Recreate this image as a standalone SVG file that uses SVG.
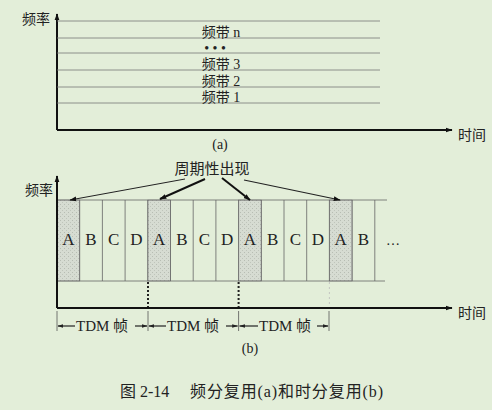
<svg xmlns="http://www.w3.org/2000/svg" width="492" height="410" viewBox="0 0 492 410">
<defs>
<style>
.t{font-family:"Liberation Serif","Noto Sans CJK SC",serif;fill:#222}
.ax{stroke:#111;stroke-width:2;fill:none}
.band{stroke:#777;stroke-width:0.8}
.slot{stroke:#666;stroke-width:0.8;fill:none}
.sh{fill:url(#stip);stroke:#888;stroke-width:0.6}
.dot{stroke:#222;stroke-width:2;stroke-dasharray:2,2}
.tick{stroke:#555;stroke-width:0.8}
.ar{stroke:#222;stroke-width:1.2;fill:none}
</style>
<pattern id="stip" width="4" height="4" patternUnits="userSpaceOnUse">
<rect width="4" height="4" fill="#d6dcd2"/>
<rect x="0" y="0" width="1" height="1" fill="#b7bdb3"/>
<rect x="2" y="2" width="1" height="1" fill="#bfc5bb"/>
</pattern>
<marker id="ah" viewBox="0 0 10 10" refX="9" refY="5" markerWidth="7" markerHeight="7" orient="auto-start-reverse" markerUnits="userSpaceOnUse"><path d="M0,1.5 L10,5 L0,8.5 Z" fill="#111"/></marker>
<marker id="sa" viewBox="0 0 10 10" refX="9" refY="5" markerWidth="6" markerHeight="6" orient="auto-start-reverse" markerUnits="userSpaceOnUse"><path d="M0,2 L10,5 L0,8 Z" fill="#222"/></marker>
</defs>
<rect width="492" height="410" fill="#e3eed9"/>

<g id="fdm">
<line class="ax" x1="57" y1="130" x2="57" y2="14" marker-end="url(#ah)"/>
<line class="ax" x1="57" y1="130" x2="452" y2="130" marker-end="url(#ah)"/>
<text class="t" x="22" y="24" font-size="14">频率</text>
<text class="t" x="458" y="140" font-size="14">时间</text>
<line class="band" x1="57" y1="21" x2="380" y2="21"/>
<line class="band" x1="57" y1="38" x2="380" y2="38"/>
<line class="band" x1="57" y1="53" x2="380" y2="53"/>
<line class="band" x1="57" y1="70" x2="380" y2="70"/>
<line class="band" x1="57" y1="87" x2="380" y2="87"/>
<line class="band" x1="57" y1="103" x2="380" y2="103"/>
<text class="t" x="221" y="37" font-size="14" text-anchor="middle">频带 n</text>
<text class="t" x="215" y="53" font-size="14" text-anchor="middle">• • •</text>
<text class="t" x="221" y="69" font-size="14" text-anchor="middle">频带 3</text>
<text class="t" x="221" y="86" font-size="14" text-anchor="middle">频带 2</text>
<text class="t" x="221" y="102" font-size="14" text-anchor="middle">频带 1</text>
<text class="t" x="220" y="149" font-size="14" text-anchor="middle">(a)</text>
</g>

<g id="tdm">
<rect class="sh" x="57" y="200" width="22.7" height="81"/>
<rect class="sh" x="147.8" y="200" width="22.7" height="81"/>
<rect class="sh" x="238.6" y="200" width="22.7" height="81"/>
<rect class="sh" x="329.4" y="200" width="22.7" height="81"/>
<line class="slot" x1="57" y1="200" x2="387" y2="200"/>
<line class="slot" x1="57" y1="281" x2="385" y2="281"/>
<path class="slot" d="M79.7,200V281M102.4,200V281M125.1,200V281M147.8,200V281M170.5,200V281M193.2,200V281M215.9,200V281M238.6,200V281M261.3,200V281M284,200V281M306.7,200V281M329.4,200V281M352.1,200V281M374.8,200V281"/>
<g class="t" font-size="17" text-anchor="middle">
<text x="68.3" y="245">A</text><text x="91" y="245">B</text><text x="113.7" y="245">C</text><text x="136.4" y="245">D</text>
<text x="159.1" y="245">A</text><text x="181.8" y="245">B</text><text x="204.5" y="245">C</text><text x="227.2" y="245">D</text>
<text x="249.9" y="245">A</text><text x="272.6" y="245">B</text><text x="295.3" y="245">C</text><text x="318" y="245">D</text>
<text x="340.7" y="245">A</text><text x="363.4" y="245">B</text>
</g>
<text class="t" x="393" y="245" font-size="14" text-anchor="middle">…</text>
<line class="ax" x1="57" y1="308" x2="57" y2="176" marker-end="url(#ah)"/>
<line class="ax" x1="57" y1="308" x2="452" y2="308" marker-end="url(#ah)"/>
<line class="dot" x1="148" y1="282" x2="148" y2="307"/>
<line class="dot" x1="238.6" y1="282" x2="238.6" y2="307"/>
<line x1="329.4" y1="282" x2="329.4" y2="307" stroke="#bbb" stroke-width="0.8" stroke-dasharray="2,3"/>
<text class="t" x="25" y="195" font-size="14">频率</text>
<text class="t" x="458" y="318" font-size="14">时间</text>
<text class="t" x="212" y="174" font-size="15" text-anchor="middle">周期性出现</text>
<text class="t" x="250" y="353" font-size="14" text-anchor="middle">(b)</text>
</g>

<g id="connectors">
<line x1="185" y1="179" x2="70" y2="200" stroke="#222" stroke-width="1" marker-end="url(#ah)"/>
<line x1="205" y1="179" x2="160" y2="199" stroke="#111" stroke-width="2" marker-end="url(#ah)"/>
<line x1="222" y1="178" x2="250" y2="200" stroke="#111" stroke-width="2" marker-end="url(#ah)"/>
<line x1="244" y1="180" x2="340" y2="200" stroke="#222" stroke-width="1.2" marker-end="url(#ah)"/>
<path class="tick" d="M57,311V331M148,311V331M238.6,311V331M329,311V331"/>
<line class="ar" x1="75" y1="326" x2="58" y2="326" marker-end="url(#sa)"/>
<line class="ar" x1="135" y1="326" x2="147" y2="326" marker-end="url(#sa)"/>
<line class="ar" x1="166" y1="326" x2="149" y2="326" marker-end="url(#sa)"/>
<line class="ar" x1="226" y1="326" x2="237.6" y2="326" marker-end="url(#sa)"/>
<line class="ar" x1="258" y1="326" x2="239.6" y2="326" marker-end="url(#sa)"/>
<line class="ar" x1="317" y1="326" x2="328" y2="326" marker-end="url(#sa)"/>
</g>
<g id="labels" class="t" font-size="15">
<text x="76" y="331">TDM 帧</text>
<text x="167" y="331">TDM 帧</text>
<text x="259" y="331">TDM 帧</text>
</g>
<text class="t" x="120" y="397" font-size="16">图 2-14</text>
<text class="t" x="190" y="397" font-size="16" textLength="193" lengthAdjust="spacing">频分复用(a)和时分复用(b)</text>
</svg>
